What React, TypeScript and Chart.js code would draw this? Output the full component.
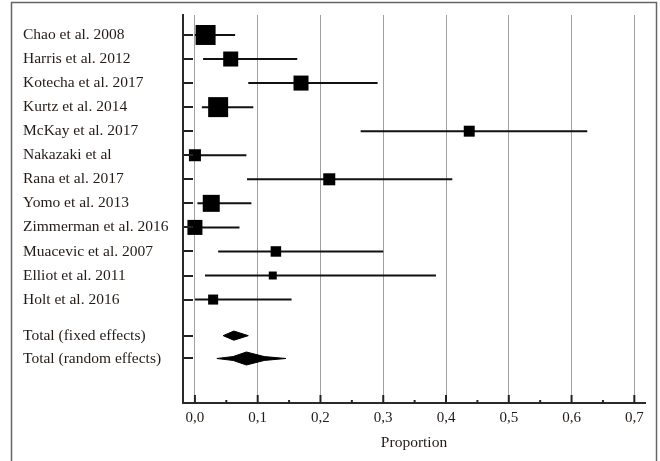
import React, { useEffect, useRef } from "react";
import { Chart, registerables } from "chart.js";

Chart.register(...registerables);

const studies = [
  "Chao et al. 2008",
  "Harris et al. 2012",
  "Kotecha et al. 2017",
  "Kurtz et al. 2014",
  "McKay et al. 2017",
  "Nakazaki et al",
  "Rana et al. 2017",
  "Yomo et al. 2013",
  "Zimmerman et al. 2016",
  "Muacevic et al. 2007",
  "Elliot et al. 2011",
  "Holt et al. 2016",
];
const estimates = [0.017, 0.057, 0.169, 0.037, 0.437, 0.0, 0.214, 0.026, 0.0, 0.129, 0.124, 0.029];
const lowerCI = [0.0, 0.013, 0.085, 0.011, 0.264, 0.0, 0.083, 0.004, 0.0, 0.037, 0.016, 0.0];
const upperCI = [0.064, 0.163, 0.291, 0.093, 0.625, 0.082, 0.41, 0.09, 0.071, 0.3, 0.384, 0.154];
const weights = [16.3, 9.2, 9.2, 16.3, 4.9, 5.9, 5.9, 11.8, 9.2, 4.5, 2.6, 4.1];

const totalLabels = ["Total (fixed effects)", "Total (random effects)"];
const totalEstimates = [0.062, 0.082];
const totalLower = [0.045, 0.035];
const totalUpper = [0.085, 0.145];

const xTickValues = [0, 0.1, 0.2, 0.3, 0.4, 0.5, 0.6, 0.7];
const xTickLabels = ["0,0", "0,1", "0,2", "0,3", "0,4", "0,5", "0,6", "0,7"];
const xAxisTitle = "Proportion";

const TEXT = "#231b16";
const FONT = "'Liberation Serif', 'Times New Roman', serif";

export default function App() {
  const ref = useRef<HTMLCanvasElement | null>(null);

  useEffect(() => {
    const canvas = ref.current;
    if (!canvas) return;

    const rowY = studies.map((_, i) => i);
    const totalY = [studies.length + 0.5, studies.length + 1.45];
    const allY = [...rowY, ...totalY];
    const allLabels = [...studies, ...totalLabels];

    const datasets: any[] = [];
    datasets.push({
      type: "scatter",
      data: estimates.map((x, i) => ({ x, y: rowY[i] })),
      pointStyle: "rect",
      pointRadius: (ctx: any) => (4.95 * Math.sqrt(weights[ctx.dataIndex] || 1)) / Math.SQRT2,
      backgroundColor: "#000",
      borderColor: "#000",
      borderWidth: 0,
    });
    studies.forEach((_, i) => {
      datasets.push({
        type: "line",
        data: [
          { x: lowerCI[i], y: rowY[i] },
          { x: upperCI[i], y: rowY[i] },
        ],
        borderColor: "#111",
        borderWidth: 2,
        pointRadius: 0,
        showLine: true,
        fill: false,
      });
    });
    // diamond outlines (fixed: plain diamond, random: diamond with concave sides)
    const halfH = [0.19, 0.27];
    const pinch = [1, 0.3];
    totalEstimates.forEach((e, i) => {
      const y = totalY[i];
      const lo = totalLower[i];
      const hi = totalUpper[i];
      const h = halfH[i];
      const p = pinch[i];
      const pts =
        p === 1
          ? [
              { x: lo, y },
              { x: e, y: y - h },
              { x: hi, y },
              { x: e, y: y + h },
              { x: lo, y },
            ]
          : [
              { x: lo, y },
              { x: e - (e - lo) * 0.45, y: y - h * p },
              { x: e, y: y - h },
              { x: e + (hi - e) * 0.45, y: y - h * p },
              { x: hi, y },
              { x: e + (hi - e) * 0.45, y: y + h * p },
              { x: e, y: y + h },
              { x: e - (e - lo) * 0.45, y: y + h * p },
              { x: lo, y },
            ];
      datasets.push({
        type: "line",
        data: pts,
        borderColor: "#000",
        backgroundColor: "#000",
        borderWidth: 1,
        pointRadius: 0,
        showLine: true,
        tension: 0,
        fill: "shape",
      });
    });

    const decor = {
      id: "decor",
      beforeDraw(chart: any) {
        const c = chart.ctx;
        c.save();
        c.fillStyle = "#fff";
        c.fillRect(0, 0, chart.width, chart.height);
        c.restore();
      },
      afterDraw(chart: any) {
        const c = chart.ctx;
        const { left, bottom } = chart.chartArea;
        const xs = chart.scales.x;
        const ys = chart.scales.y;
        c.save();
        c.strokeStyle = "#222";
        c.lineWidth = 2;
        allY.forEach((v) => {
          const py = Math.round(ys.getPixelForValue(v));
          c.beginPath();
          c.moveTo(left + 1, py);
          c.lineTo(left + 10, py);
          c.stroke();
        });
        xTickValues.forEach((v, i) => {
          const px = xs.getPixelForValue(v);
          c.beginPath();
          c.moveTo(px, bottom);
          c.lineTo(px, bottom - 8);
          c.stroke();
          if (i < xTickValues.length - 1) {
            const mx = xs.getPixelForValue((v + xTickValues[i + 1]) / 2);
            c.beginPath();
            c.moveTo(mx, bottom);
            c.lineTo(mx, bottom - 3);
            c.stroke();
          }
        });
        c.strokeStyle = "#666";
        c.lineWidth = 1.5;
        c.strokeRect(11.5, 2.5, 645, 470);
        c.restore();
      },
    };

    const chart = new Chart(canvas, {
      type: "scatter",
      data: { datasets },
      options: {
        animation: false,
        responsive: false,
        maintainAspectRatio: false,
        layout: { padding: { left: 23, top: 15, right: 15, bottom: 0 } },
        plugins: {
          legend: { display: false },
          tooltip: { enabled: false },
        },
        scales: {
          x: {
            type: "linear",
            min: -0.019,
            max: 0.717,
            afterBuildTicks: (s: any) => {
              s.ticks = xTickValues.map((value) => ({ value }));
            },
            afterFit: (s: any) => {
              s.height = 58;
            },
            ticks: {
              callback: (_v: any, i: number) => xTickLabels[i],
              color: TEXT,
              font: { family: FONT, size: 15 },
              padding: 6,
              maxRotation: 0,
              autoSkip: false,
            },
            grid: {
              color: "#a0a0a0",
              lineWidth: 1,
              drawTicks: false,
            },
            border: { display: true, color: "#2a2a2a", width: 2 },
            title: {
              display: true,
              text: xAxisTitle,
              color: TEXT,
              font: { family: FONT, size: 15.5 },
              padding: { top: 0, bottom: 9 },
            },
          },
          y: {
            type: "linear",
            reverse: true,
            min: -0.83,
            max: 15.3,
            afterBuildTicks: (s: any) => {
              s.ticks = allY.map((value) => ({ value }));
            },
            afterFit: (s: any) => {
              s.width = 160;
            },
            ticks: {
              callback: (_v: any, i: number) => allLabels[i],
              color: TEXT,
              font: { family: FONT, size: 15.5 },
              crossAlign: "far",
              autoSkip: false,
            },
            grid: { display: false, drawTicks: false },
            border: { display: true, color: "#2a2a2a", width: 2 },
          },
        },
      } as any,
      plugins: [decor],
    });

    return () => chart.destroy();
  }, []);

  return (
    <div style={{ position: "fixed", left: 0, top: 0, width: 660, height: 461, background: "#fff" }}>
      <canvas ref={ref} width={660} height={461} style={{ width: 660, height: 461, display: "block" }} />
    </div>
  );
}
